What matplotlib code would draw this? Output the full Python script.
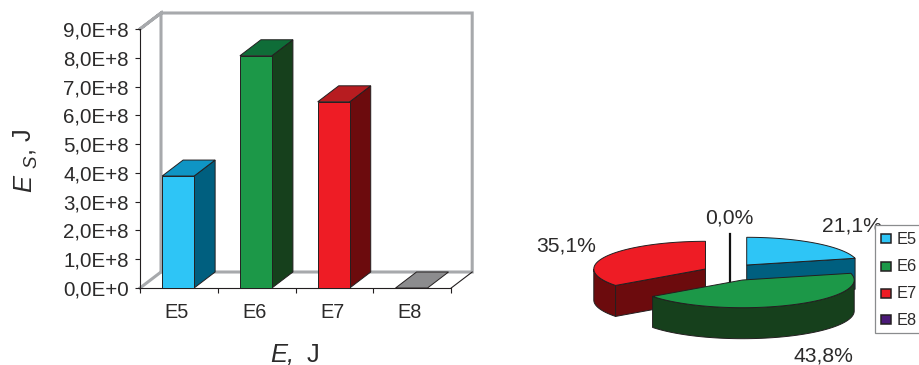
import numpy as np
import matplotlib
matplotlib.use("Agg")
import matplotlib.pyplot as plt
from matplotlib.patches import Polygon, Rectangle

plt.rcParams['font.family'] = ['Liberation Sans', 'DejaVu Sans']

categorias = ["E5", "E6", "E7", "E8"]
energia = [3.89e8, 8.07e8, 6.47e8, 0.0]
marcas_y = [0, 1e8, 2e8, 3e8, 4e8, 5e8, 6e8, 7e8, 8e8, 9e8]
etiquetas_y = ["0,0E+0", "1,0E+8", "2,0E+8", "3,0E+8", "4,0E+8",
               "5,0E+8", "6,0E+8", "7,0E+8", "8,0E+8", "9,0E+8"]

frente = ["#2ec5f6", "#1c9848", "#ee1c25", "#8c8c8e"]
techo = ["#0f95c4", "#0f6d38", "#b71c20", "#8c8c8e"]
lado = ["#005f7f", "#16401c", "#6c0b0d", "#8c8c8e"]
muestra = ["#2ec5f6", "#1c9848", "#ee1c25", "#4b1a78"]
BORDE = "#231f20"
GRIS = "#a7a9ac"
TEXTO = "#2b2a2a"

W, H = 919, 365
fig = plt.figure(figsize=(W / 100, H / 100), dpi=100)

# ---- barras ----
x0, x1, y0, y1 = 140, 472, 288, 12.5
px_x = 77.8              # pixeles por categoria
px_y = 259 / 9e8         # pixeles por joule
ax = fig.add_axes([x0 / W, 1 - y0 / H, (x1 - x0) / W, (y0 - y1) / H])
ax.set_xlim(0, (x1 - x0) / px_x)
ax.set_ylim(0, (y0 - y1) / px_y)
ax.patch.set_visible(False)
for s in ["top", "right"]:
    ax.spines[s].set_visible(False)
for s in ["left", "bottom"]:
    ax.spines[s].set_linewidth(0.8)
    ax.spines[s].set_color(BORDE)
ax.spines["left"].set_bounds(0, 9e8)
ax.spines["bottom"].set_bounds(0, 4)

dx = 21 / px_x
dy = 16 / px_y
ymax = 9e8

# pared del fondo
ax.plot([0, dx, 4 + dx, 4 + dx, dx, dx, 0],
        [ymax, ymax + dy, ymax + dy, dy, dy, ymax + dy, ymax],
        color=GRIS, lw=2.2, solid_joinstyle="miter", clip_on=False, zorder=1)
ax.plot([0, dx], [0, dy], color=GRIS, lw=2.2, clip_on=False, zorder=1)
ax.plot([4, 4 + dx], [0, dy], color=BORDE, lw=0.8, clip_on=False, zorder=1)

ancho = 32 / px_x
pos = np.arange(4) + 0.49
for i, v in enumerate(energia):
    izq = pos[i] - ancho / 2
    der = pos[i] + ancho / 2
    if v > 0:
        ax.fill([der, der + dx, der + dx, der], [0, dy, v + dy, v],
                color=lado[i], ec=BORDE, lw=0.7, zorder=3)
    ax.fill([izq, der, der + dx, izq + dx], [v, v, v + dy, v + dy],
            color=techo[i], ec=BORDE, lw=0.7, zorder=3)
ax.bar(pos[:3], energia[:3], width=ancho, color=frente[:3], edgecolor=BORDE,
       linewidth=0.7, zorder=4)

ax.set_yticks(marcas_y)
ax.set_yticklabels(etiquetas_y, fontsize=14.8, color=TEXTO)
ax.tick_params(axis="y", length=3.6, width=0.8, color=BORDE, pad=4.5)
ax.set_xticks(range(5))
ax.set_xticklabels([])
ax.set_xticks(np.arange(4) + 0.47, minor=True)
ax.set_xticklabels(categorias, minor=True, fontsize=14.3, color=TEXTO)
ax.tick_params(axis="x", which="major", length=3.6, width=0.8, color=BORDE)
ax.tick_params(axis="x", which="minor", length=0, pad=11)

# ---- capa en pixeles para la torta y los textos sueltos ----
pa = fig.add_axes([0, 0, 1, 1])
pa.set_xlim(0, W)
pa.set_ylim(H, 0)
pa.axis("off")
pa.patch.set_visible(False)

pa.text(270, 361.5, "E,", fontsize=18.4, style="italic", color=TEXTO)
pa.text(307, 361.5, "J", fontsize=18.4, color=TEXTO)
pa.text(31, 192, "E", fontsize=18.4, style="italic", rotation=90, color=TEXTO,
        rotation_mode="anchor", ha="left", va="baseline")
pa.text(36, 168, "S", fontsize=13.4, style="italic", rotation=90, color=TEXTO,
        rotation_mode="anchor", ha="left", va="baseline")
pa.text(31, 153, ",", fontsize=18.4, rotation=90, color=TEXTO,
        rotation_mode="anchor", ha="left", va="baseline")
pa.text(31, 141, "J", fontsize=18.4, rotation=90, color=TEXTO,
        rotation_mode="anchor", ha="left", va="baseline")

# ---- torta ----
rx, ry, alto = 111.7, 27.7, 31
centros = [(746.7, 265), (742.5, 280), (705.5, 269), (729.7, 262)]
total = sum(energia)
fin = np.cumsum(energia) / total * 2 * np.pi
inicio = np.concatenate([[0], fin[:-1]])


def borde(c, t, baja=0):
    t = np.asarray(t)
    return np.column_stack([c[0] + rx * np.sin(t), c[1] - ry * np.cos(t) + baja])


def gajo(i, z):
    c = centros[i]
    a, b = inicio[i], fin[i]
    if i == 3:
        # rebanada de 0 %: solo se ve el corte como una raya
        p = borde(c, [0.0])[0]
        pa.plot([p[0], p[0]], [p[1], c[1] + alto], color="#111111", lw=1.6, zorder=z)
        return
    # pared curva, solo la parte que mira al frente
    f0, f1 = max(a, np.pi / 2), min(b, 3 * np.pi / 2)
    if f1 > f0:
        t = np.linspace(f0, f1, 80)
        pa.add_patch(Polygon(np.vstack([borde(c, t), borde(c, t[::-1], alto)]),
                             fc=lado[i], ec=BORDE, lw=0.7, zorder=z))
    # paredes del corte que miran al frente
    if i == 0:
        p = borde(c, [b])[0]
    elif i == 2:
        p = borde(c, [a])[0]
    else:
        p = None
    if p is not None:
        pa.add_patch(Polygon([c, p, (p[0], p[1] + alto), (c[0], c[1] + alto)],
                             fc=lado[i], ec=BORDE, lw=0.7, zorder=z))
    t = np.linspace(a, b, 120)
    pa.add_patch(Polygon(np.vstack([[c], borde(c, t)]), fc=frente[i], ec=BORDE,
                         lw=0.7, zorder=z))


for z, i in enumerate([3, 0, 2, 1]):
    gajo(i, 5 + z)

pos_pct = [(821.7, 231.7), (793, 361.7), (536, 252), (705, 223.3)]
for v, (px, py) in zip(energia, pos_pct):
    txt = f"{100 * v / total:.1f}%".replace(".", ",")
    pa.text(px, py, txt, fontsize=15.2, color=TEXTO, zorder=12)

# ---- leyenda ----
pa.add_patch(Rectangle((874.5, 225), 60, 107.5, fc="white", ec="#8a8c8e", lw=0.9,
                       clip_on=True, zorder=20))
filas = [238.5, 266, 293, 319.5]
for nombre, color, fy in zip(categorias, muestra, filas):
    pa.add_patch(Rectangle((881, fy - 4.5), 9.5, 9, fc=color, ec=BORDE, lw=1.1, zorder=21))
    pa.text(896.5, fy + 5.2, nombre, fontsize=11.8, color=TEXTO, zorder=21)

fig.savefig("out.png", dpi=100)
